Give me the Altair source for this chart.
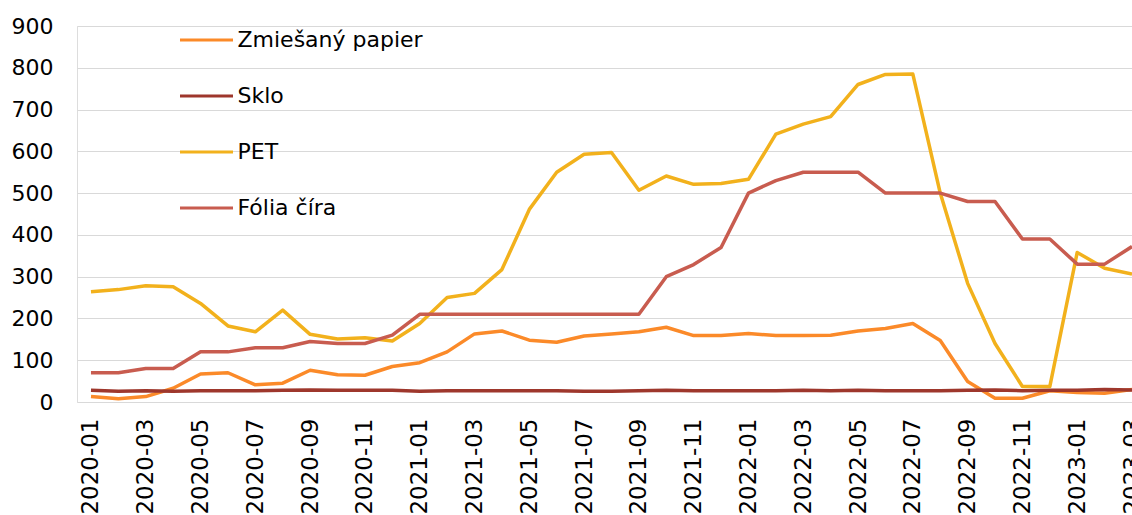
import altair as alt
import pandas as pd

# Month labels (category axis)
months = [
    "2020-01", "2020-02", "2020-03", "2020-04", "2020-05", "2020-06",
    "2020-07", "2020-08", "2020-09", "2020-10", "2020-11", "2020-12",
    "2021-01", "2021-02", "2021-03", "2021-04", "2021-05", "2021-06",
    "2021-07", "2021-08", "2021-09", "2021-10", "2021-11", "2021-12",
    "2022-01", "2022-02", "2022-03", "2022-04", "2022-05", "2022-06",
    "2022-07", "2022-08", "2022-09", "2022-10", "2022-11", "2022-12",
    "2023-01", "2023-02", "2023-03",
]

series_names = ["Zmiešaný papier", "Sklo", "PET", "Fólia číra"]
series_colors = ["#FB8A29", "#9E372C", "#F2B11C", "#C85C4F"]

papier = [13, 8, 13, 33, 67, 70, 41, 45, 76, 65, 64, 85, 94, 120, 163, 170,
          148, 143, 158, 163, 168, 179, 159, 159, 164, 159, 159, 160, 170, 176,
          188, 147, 49, 9, 9, 27, 23, 21, 30]
sklo = [28, 26, 27, 26, 27, 27, 27, 28, 29, 28, 28, 28, 26, 27, 27, 27,
        27, 27, 26, 26, 27, 28, 27, 27, 27, 27, 28, 27, 28, 27,
        27, 27, 28, 29, 27, 28, 28, 30, 29]
pet = [264, 269, 278, 276, 236, 182, 168, 220, 162, 151, 154, 146, 188, 250,
       260, 317, 461, 550, 593, 597, 507, 541, 521, 523, 533, 641, 665, 683,
       760, 784, 785, 500, 284, 140, 37, 37, 358, 320, 306]
folia = [70, 70, 80, 80, 120, 120, 130, 130, 145, 140, 140, 160, 210, 210,
         210, 210, 210, 210, 210, 210, 210, 300, 329, 370, 500, 530, 550, 550,
         550, 500, 500, 500, 480, 480, 390, 390, 330, 330, 372]

rows = []
for name, vals in zip(series_names, [papier, sklo, pet, folia]):
    for i, v in enumerate(vals):
        rows.append({"i": i, "month": months[i], "series": name, "value": v})
df = pd.DataFrame(rows)

label_expr = "[" + ",".join(f"'{m}'" for m in months) + "][datum.value]"

chart = (
    alt.Chart(df)
    .mark_line(strokeWidth=3.5, strokeJoin="round")
    .encode(
        x=alt.X(
            "i:Q",
            scale=alt.Scale(domain=[-0.51, 38], nice=False, zero=False),
            axis=alt.Axis(
                values=list(range(0, 39, 2)),
                labelExpr=label_expr,
                labelAngle=-90,
                labelAlign="right",
                labelBaseline="middle",
                labelFont="DejaVu Sans",
                labelFontSize=23,
                labelColor="#000000",
                labelPadding=16,
                labelOverlap=False,
                ticks=False,
                tickSize=0,
                domain=False,
                grid=False,
                title=None,
            ),
        ),
        y=alt.Y(
            "value:Q",
            scale=alt.Scale(domain=[0, 900], nice=False),
            axis=alt.Axis(
                values=list(range(0, 901, 100)),
                labelFont="DejaVu Sans",
                labelFontSize=22,
                labelColor="#000000",
                labelPadding=24,
                ticks=False,
                tickSize=0,
                domain=False,
                gridColor="#D9D9D9",
                gridWidth=1.2,
                title=None,
            ),
        ),
        color=alt.Color(
            "series:N",
            scale=alt.Scale(domain=series_names, range=series_colors),
            sort=series_names,
            legend=alt.Legend(
                title=None,
                orient="none",
                legendX=101.5,
                legendY=-14,
                padding=0,
                symbolType="stroke",
                symbolSize=2809,
                symbolStrokeWidth=3,
                labelFont="DejaVu Sans",
                labelFontSize=22,
                labelColor="#000000",
                labelOffset=3,
                labelLimit=400,
                rowPadding=17,
            ),
        ),
        order=alt.Order("i:Q"),
    )
    .properties(
        width=1055,
        height=376,
        autosize=alt.AutoSizeParams(type="none"),
        padding={"left": 77, "top": 26, "right": 0, "bottom": 113},
    )
    .configure_view(stroke=None)
    .configure(background="#FFFFFF")
)

chart.save("out.html", embed_options={"renderer": "svg", "actions": False})
